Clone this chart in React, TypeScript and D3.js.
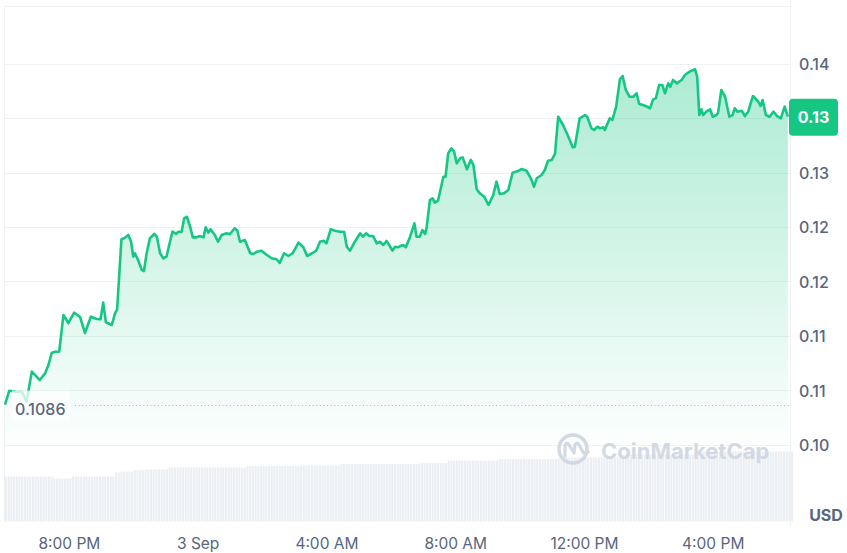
import React, { useEffect, useRef } from "react";
import * as d3 from "d3";

const WIDTH = 847;
const HEIGHT = 553;

// chart starts 2 Sep 18:00, times are minutes after that
const startTime = new Date(2024, 8, 2, 18, 0);
const spanMinutes = 1463;

const priceMinutes = [
  0, 8, 20, 32, 40, 50, 65, 75, 81, 87, 93, 101, 109, 118, 129, 140, 149, 160,
  171, 178, 183, 188, 199, 205, 209, 217, 222, 230, 235, 239, 242, 248, 255,
  259, 264, 270, 278, 283, 289, 295, 301, 306, 312, 319, 323, 329, 334, 339,
  345, 350, 357, 363, 370, 374, 379, 383, 391, 397, 404, 413, 419, 428, 433,
  438, 447, 457, 463, 469, 478, 488, 497, 506, 512, 520, 528, 536, 547, 556,
  563, 574, 580, 587, 594, 599, 607, 615, 624, 632, 637, 643, 652, 662, 667,
  673, 679, 686, 693, 699, 705, 711, 716, 722, 727, 733, 737, 742, 747, 755,
  763, 767, 773, 778, 783, 786, 792, 797, 801, 807, 817, 821, 826, 832, 837,
  842, 848, 853, 857, 861, 868, 873, 879, 885, 893, 901, 910, 916, 922, 930,
  938, 946, 955, 963, 972, 980, 986, 991, 1000, 1006, 1012, 1019, 1025, 1031,
  1040, 1050, 1058, 1062, 1071, 1081, 1085, 1093, 1098, 1104, 1109, 1115,
  1118, 1127, 1132, 1139, 1146, 1151, 1157, 1164, 1171, 1177, 1182, 1189,
  1197, 1202, 1208, 1213, 1219, 1225, 1230, 1236, 1240, 1245, 1252, 1261,
  1267, 1276, 1283, 1286, 1290, 1294, 1298, 1301, 1307, 1314, 1319, 1326,
  1329, 1335, 1342, 1350, 1356, 1360, 1365, 1373, 1379, 1385, 1394, 1404,
  1408, 1412, 1418, 1425, 1432, 1439, 1446, 1453, 1459,
];

const prices = [
  0.1086, 0.10988, 0.10979, 0.10976, 0.10887, 0.11163, 0.11086, 0.11151,
  0.11224, 0.11334, 0.11346, 0.11346, 0.11683, 0.11609, 0.11704, 0.11664,
  0.11518, 0.11667, 0.11646, 0.11643, 0.11796, 0.11616, 0.11591, 0.11698,
  0.11735, 0.12377, 0.12386, 0.12417, 0.12355, 0.12218, 0.12249, 0.12187,
  0.12096, 0.12086, 0.12249, 0.12386, 0.12426, 0.12401, 0.12249, 0.12203,
  0.12218, 0.12325, 0.12447, 0.12426, 0.12447, 0.12444, 0.1257, 0.12584,
  0.12493, 0.12395, 0.12395, 0.12407, 0.12395, 0.12487, 0.12438, 0.12469,
  0.12417, 0.12355, 0.12417, 0.12432, 0.12423, 0.12478, 0.12456, 0.12355,
  0.12371, 0.12249, 0.12242, 0.12263, 0.12273, 0.12233, 0.12203, 0.12194,
  0.1216, 0.12249, 0.12224, 0.12249, 0.12346, 0.12304, 0.12224, 0.12254,
  0.12273, 0.12355, 0.12364, 0.1234, 0.12469, 0.12456, 0.12447, 0.12447,
  0.12309, 0.12273, 0.12355, 0.12432, 0.12401, 0.12432, 0.12407, 0.12407,
  0.1234, 0.12355, 0.12325, 0.12362, 0.12325, 0.12273, 0.12309, 0.12304,
  0.12316, 0.12325, 0.12304, 0.12401, 0.12524, 0.12401, 0.12401, 0.12462,
  0.12426, 0.12493, 0.12738, 0.12753, 0.12713, 0.12731, 0.12951, 0.12951,
  0.13166, 0.13212, 0.13181, 0.13074, 0.1312, 0.13129, 0.13074, 0.13019,
  0.13105, 0.13059, 0.12836, 0.12799, 0.12768, 0.12692, 0.12784, 0.12906,
  0.12793, 0.12799, 0.12829, 0.12988, 0.13001, 0.13022, 0.13006, 0.12937,
  0.1286, 0.12937, 0.12967, 0.13013, 0.13098, 0.13105, 0.1316, 0.13502,
  0.13426, 0.13318, 0.13221, 0.13227, 0.13487, 0.13517, 0.13502, 0.13395,
  0.1338, 0.1341, 0.13395, 0.13405, 0.1338, 0.13487, 0.13472, 0.13594,
  0.13845, 0.13875, 0.13747, 0.13685, 0.13685, 0.13717, 0.13618, 0.13609,
  0.13594, 0.13579, 0.13661, 0.13671, 0.13793, 0.13793, 0.13717, 0.13808,
  0.13777, 0.13839, 0.13808, 0.13839, 0.13884, 0.13915, 0.1393, 0.13937,
  0.13869, 0.13517, 0.1357, 0.13517, 0.13548, 0.1357, 0.13502, 0.13517,
  0.13539, 0.13747, 0.13685, 0.13502, 0.13517, 0.13579, 0.13548, 0.13557,
  0.13508, 0.13548, 0.13692, 0.13639, 0.136, 0.13655, 0.13517, 0.13502,
  0.13548, 0.13508, 0.13487, 0.13594, 0.13502,
];

const openPrice = 0.1086;
const openLabel = "0.1086";
const lastPriceLabel = "0.13";

const yTickValues = [0.1049, 0.1099, 0.1149, 0.1199, 0.1249, 0.1299, 0.1349, 0.1399];
const yTickLabels = ["0.10", "0.11", "0.11", "0.12", "0.12", "0.13", "0.13", "0.14"];

// volume (relative units), one bar per 5 minutes, stored as runs
const volumeRunBars = [18, 7, 16, 2, 5, 5, 8, 29, 20, 15, 30, 10, 19, 22, 24, 30, 34];
const volumeRunValues = [45, 43, 45, 49, 50, 51.5, 52, 54, 55.5, 56, 57.5, 58.5, 61, 62.5, 64, 67, 70];

const GREEN = "#16c784";
const TEXT = "#58667e";
const GRID = "#eff2f5";

const App: React.FC = () => {
  const svgRef = useRef<SVGSVGElement | null>(null);

  useEffect(() => {
    const svg = d3.select(svgRef.current);
    svg.selectAll("*").remove();

    const left = 4.5;
    const right = 790.5;
    const top = 6.5;
    const volBottom = 521.5;

    const endTime = d3.timeMinute.offset(startTime, spanMinutes);
    const x = d3.scaleTime().domain([startTime, endTime]).range([5, 790]);
    const y = d3.scaleLinear().domain([0.1049, 0.1399]).range([445, 63.5]);
    const yVol = d3.scaleLinear().domain([0, 75]).range([volBottom, 446.5]);

    const data = priceMinutes.map((m, i) => ({
      t: d3.timeMinute.offset(startTime, m),
      p: prices[i],
    }));

    const defs = svg.append("defs");
    const grad = defs
      .append("linearGradient")
      .attr("id", "areaFill")
      .attr("gradientUnits", "userSpaceOnUse")
      .attr("x1", 0)
      .attr("x2", 0)
      .attr("y1", y(0.1399))
      .attr("y2", y(0.1049));
    grad.append("stop").attr("offset", 0).attr("stop-color", GREEN).attr("stop-opacity", 0.36);
    grad.append("stop").attr("offset", 1).attr("stop-color", GREEN).attr("stop-opacity", 0.01);

    // frame + grid
    const frame = svg.append("g");
    frame
      .append("line")
      .attr("x1", left)
      .attr("x2", right)
      .attr("y1", top)
      .attr("y2", top)
      .attr("stroke", GRID);
    frame
      .append("line")
      .attr("x1", left)
      .attr("x2", left)
      .attr("y1", top)
      .attr("y2", volBottom)
      .attr("stroke", GRID);
    frame
      .append("line")
      .attr("x1", right)
      .attr("x2", right)
      .attr("y1", 0)
      .attr("y2", 527)
      .attr("stroke", GRID);
    frame
      .selectAll("line.grid")
      .data(yTickValues)
      .enter()
      .append("line")
      .attr("class", "grid")
      .attr("x1", left)
      .attr("x2", right)
      .attr("y1", (d) => Math.round(y(d)) + 0.5)
      .attr("y2", (d) => Math.round(y(d)) + 0.5)
      .attr("stroke", GRID);

    // volume bars
    const volumes: number[] = [];
    volumeRunBars.forEach((n, i) => {
      for (let k = 0; k < n; k++) volumes.push(volumeRunValues[i]);
    });
    const barW = x(d3.timeMinute.offset(startTime, 5)) - x(startTime);
    svg
      .append("g")
      .selectAll("rect")
      .data(volumes)
      .enter()
      .append("rect")
      .attr("x", (_, i) => x(d3.timeMinute.offset(startTime, i * 5)))
      .attr("width", Math.max(0.5, barW - 0.6))
      .attr("y", (d) => yVol(d))
      .attr("height", (d) => volBottom - yVol(d))
      .attr("fill", "#ebeef3");

    // watermark
    const wm = svg.append("g").attr("opacity", 0.9);
    wm.append("circle")
      .attr("cx", 573)
      .attr("cy", 449)
      .attr("r", 14)
      .attr("fill", "none")
      .attr("stroke", "#cfd6e2")
      .attr("stroke-width", 3.5);
    wm.append("path")
      .attr(
        "d",
        "M565,456 L565,446 Q566,441 569,445 L574,453 L575,445 Q577,441 579,445 L583,452 Q585,455 588,452"
      )
      .attr("fill", "#ffffff")
      .attr("stroke", "#cfd6e2")
      .attr("stroke-width", 3.2)
      .attr("stroke-linejoin", "round")
      .attr("stroke-linecap", "round");
    wm.append("text")
      .attr("x", 601)
      .attr("y", 459)
      .attr("font-family", "Inter, sans-serif")
      .attr("font-weight", 700)
      .attr("font-size", 22)
      .attr("fill", "#cfd6e2")
      .text("CoinMarketCap");

    // price area + line
    const area = d3
      .area<{ t: Date; p: number }>()
      .x((d) => x(d.t))
      .y0(y(0.1049))
      .y1((d) => y(d.p));
    const line = d3
      .line<{ t: Date; p: number }>()
      .x((d) => x(d.t))
      .y((d) => y(d.p));

    svg.append("path").datum(data).attr("d", area).attr("fill", "url(#areaFill)");
    svg
      .append("path")
      .datum(data)
      .attr("d", line)
      .attr("fill", "none")
      .attr("stroke", GREEN)
      .attr("stroke-width", 2.6)
      .attr("stroke-linejoin", "round");

    // open price reference
    const yOpen = y(openPrice);
    svg
      .append("line")
      .attr("x1", 75)
      .attr("x2", right - 1)
      .attr("y1", Math.round(yOpen) + 0.5)
      .attr("y2", Math.round(yOpen) + 0.5)
      .attr("stroke", "#a9b1bf")
      .attr("stroke-width", 1)
      .attr("stroke-dasharray", "1 2.6");
    svg
      .append("rect")
      .attr("x", 12)
      .attr("y", yOpen - 14)
      .attr("width", 58)
      .attr("height", 30)
      .attr("fill", "#ffffff")
      .attr("opacity", 0.75);
    svg
      .append("text")
      .attr("x", 15)
      .attr("y", yOpen + 4)
      .attr("dominant-baseline", "central")
      .attr("font-family", "Inter, sans-serif")
      .attr("font-weight", 500)
      .attr("font-size", 16)
      .attr("fill", TEXT)
      .text(openLabel);

    // y axis labels
    svg
      .append("g")
      .selectAll("text")
      .data(yTickValues)
      .enter()
      .append("text")
      .attr("x", 799)
      .attr("y", (d) => y(d))
      .attr("dominant-baseline", "central")
      .attr("font-family", "Inter, sans-serif")
      .attr("font-weight", 500)
      .attr("font-size", 16)
      .attr("fill", TEXT)
      .text((_, i) => yTickLabels[i]);

    // last price badge
    const yLast = y(prices[prices.length - 1]);
    svg
      .append("rect")
      .attr("x", 789)
      .attr("y", yLast - 18)
      .attr("width", 49)
      .attr("height", 37)
      .attr("rx", 4)
      .attr("fill", GREEN);
    svg
      .append("text")
      .attr("x", 813.5)
      .attr("y", yLast + 0.5)
      .attr("text-anchor", "middle")
      .attr("dominant-baseline", "central")
      .attr("font-family", "Inter, sans-serif")
      .attr("font-weight", 700)
      .attr("font-size", 16)
      .attr("fill", "#ffffff")
      .text(lastPriceLabel);

    // x axis labels
    const xTicks = d3.timeHour.every(4)!.range(startTime, endTime);
    const fmtTime = d3.timeFormat("%-I:%M %p");
    const fmtDay = d3.timeFormat("%-d %b");
    svg
      .append("g")
      .selectAll("text")
      .data(xTicks)
      .enter()
      .append("text")
      .attr("x", (d) => x(d))
      .attr("y", 543.5)
      .attr("text-anchor", "middle")
      .attr("dominant-baseline", "central")
      .attr("font-family", "Inter, sans-serif")
      .attr("font-size", 15.5)
      .attr("fill", TEXT)
      .text((d) => (d.getHours() === 0 ? fmtDay(d) : fmtTime(d)));

    svg
      .append("text")
      .attr("x", 826)
      .attr("y", 515)
      .attr("text-anchor", "middle")
      .attr("dominant-baseline", "central")
      .attr("font-family", "Inter, sans-serif")
      .attr("font-weight", 700)
      .attr("font-size", 16)
      .attr("fill", TEXT)
      .text("USD");
  }, []);

  return (
    <svg
      ref={svgRef}
      width={WIDTH}
      height={HEIGHT}
      style={{ position: "absolute", left: 0, top: 0, background: "#ffffff" }}
    ></svg>
  );
};

export default App;
